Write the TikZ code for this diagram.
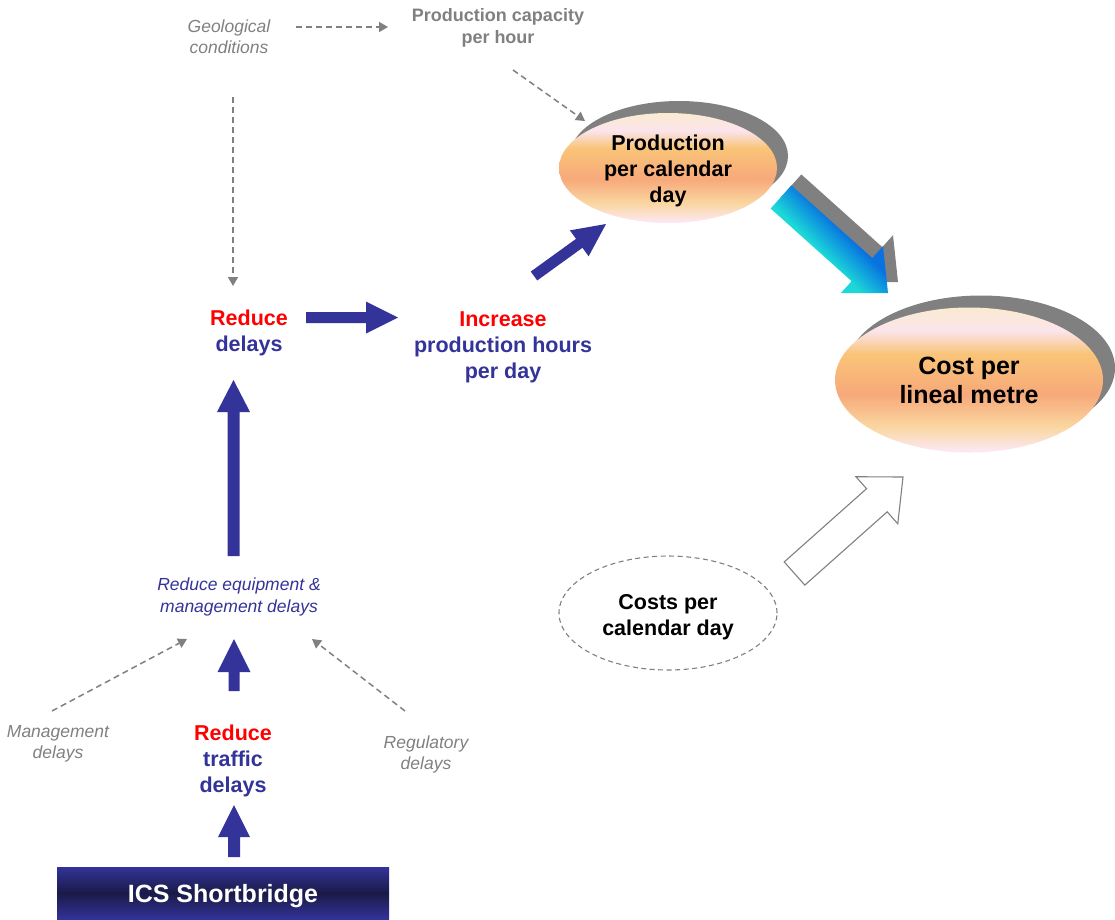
\documentclass[tikz,border=0pt]{standalone}
\usepackage{fontspec}
\setmainfont{Liberation Sans}
\usetikzlibrary{calc,shapes.geometric,arrows.meta,shadows}

\definecolor{navy}{HTML}{333399}
\definecolor{dgray}{HTML}{808080}
\definecolor{shgray}{HTML}{808080}
\definecolor{redc}{HTML}{FF0000}
\definecolor{egA}{HTML}{FCE7EE}
\definecolor{egB}{HTML}{FAD6A0}
\definecolor{egC}{HTML}{F7A97A}
\definecolor{egD}{HTML}{F9C478}
\definecolor{egE}{HTML}{FBE4EC}
\definecolor{egF}{HTML}{FAEAD0}
\definecolor{icsdark}{HTML}{1A1A48}
\definecolor{cyanA}{HTML}{1CD8D8}
\definecolor{blueA}{HTML}{0872E0}

\pgfdeclareverticalshading{eggshade}{100bp}{color(0bp)=(egA); color(26bp)=(egA); color(34bp)=(egB); color(45bp)=(egC); color(59bp)=(egD); color(67bp)=(egE); color(75bp)=(egF); color(100bp)=(egF)}
\pgfdeclareverticalshading{icsshade}{100bp}{color(0bp)=(navy); color(25bp)=(navy); color(50bp)=(icsdark); color(75bp)=(navy); color(100bp)=(navy)}
\pgfdeclareverticalshading{blueshade}{100bp}{color(0bp)=(blueA); color(43bp)=(blueA); color(57bp)=(cyanA); color(100bp)=(cyanA)}

% block arrow: [style]{tail}{tip}{shaft half width}{head half width}{head length}
\newcommand\blockarrow[6][]{%
  \coordinate (bah) at ($(#3)!#6!(#2)$);
  \path[#1] ($(#2)!#4!90:(#3)$) -- ($(bah)!#4!90:(#3)$) -- ($(bah)!#5!90:(#3)$) -- (#3)
     -- ($(bah)!#5!-90:(#3)$) -- ($(bah)!#4!-90:(#3)$) -- ($(#2)!#4!-90:(#3)$) -- cycle;}

\tikzset{
  midlbl/.style={font=\fontsize{21.5}{26}\selectfont\bfseries, align=center, inner sep=0pt, text=navy},
  greyit/.style={font=\fontsize{17.5}{21.5}\selectfont\itshape, align=center, inner sep=0pt, text=dgray},
  navyit/.style={font=\fontsize{17.5}{21.5}\selectfont\itshape, align=center, inner sep=0pt, text=navy},
  greybf/.style={font=\fontsize{18}{22}\selectfont\bfseries, align=center, inner sep=0pt, text=dgray},
  egg/.style={ellipse, inner sep=0pt, shading=eggshade},
  eggtext/.style={align=center, inner sep=0pt, text=black, font=\fontsize{21.5}{26}\selectfont\bfseries},
  dasharr/.style={draw=dgray, line width=1.5pt, dash pattern=on 6pt off 4pt, -{Triangle[width=10pt,length=9pt]}},
  navyblk/.style={fill=navy},
  blueblk/.style={shading=blueshade, shading angle=135},
  shadowblk/.style={fill=shgray, transform canvas={shift={(10pt,11pt)}}},
  whiteblk/.style={fill=white, draw=dgray, line width=1.1pt, line join=miter},
}

\begin{document}
\begin{tikzpicture}[x=1pt, y=-1pt]
\useasboundingbox (0,0) rectangle (1115,919);

% ---- nodes ----
\node[greyit] (geo) at (229,36.5) {Geological\\conditions};
\node[greybf] (cap) at (498,28) {Production capacity\\per hour};
\node[egg, minimum width=218, minimum height=110,
      general shadow={fill=shgray, shadow xshift=11pt, shadow yshift=12pt}]
      (prod) at (668,168) {};
\node[eggtext] (prodlbl) at ([shift={(0,3)}]prod.center) {Production\\per calendar\\day};
\node[egg, minimum width=268, minimum height=145, align=center, text=black,
      font=\fontsize{25}{29}\selectfont\bfseries,
      general shadow={fill=shgray, shadow xshift=12pt, shadow yshift=12pt}]
      (cost) at (969,380) {Cost per\\lineal metre};
\node[midlbl] (rd) at (249,333) {\textcolor{redc}{Reduce}\\delays};
\node[midlbl] (inc) at (503,347) {\textcolor{redc}{Increase}\\production hours\\per day};
\node[navyit] (reqp) at (239,597) {Reduce equipment \&\\management delays};
\node[greyit] (mgmt) at (58,744) {Management\\delays};
\node[greyit] (reg) at (426,754.5) {Regulatory\\delays};
\node[midlbl] (rtd) at (233,761) {\textcolor{redc}{Reduce}\\traffic\\delays};
\node[ellipse, draw=dgray, line width=1.1pt, dash pattern=on 5pt off 3.5pt,
      minimum width=218, minimum height=114, inner sep=0pt]
      (cpd) at (668,613) {};
\node[eggtext] (cpdlbl) at ([shift={(0,4)}]cpd.center) {Costs per\\calendar day};
\node[rectangle, shading=icsshade, minimum width=332, minimum height=52, inner sep=0pt]
      (ics) at (223,893) {};
\node[text=white, inner sep=0pt, font=\fontsize{25}{29}\selectfont\bfseries]
      (icslbl) at ([shift={(0,3)}]ics.center) {ICS Shortbridge};

% ---- dashed connectors ----
\draw[dasharr] ([shift={(67,-9.5)}]geo.center) -- ([shift={(-110,-1)}]cap.center);
\draw[dasharr] ([shift={(15,42)}]cap.center) -- ([shift={(-83,-47)}]prod.center);
\draw[dasharr] ([shift={(4,60.5)}]geo.center) -- ([shift={(-16,-47)}]rd.center);
\draw[dasharr] ([shift={(-6,-33)}]mgmt.center) -- ([shift={(-52,42)}]reqp.center);
\draw[dasharr] ([shift={(-21,-43.5)}]reg.center) -- ([shift={(73,42)}]reqp.center);

% ---- block arrow end points ----
\coordinate (aS) at ([shift={(57,-15.5)}]rd.center);
\coordinate (aT) at ([shift={(-105,-29.5)}]inc.center);
\coordinate (bS) at ([shift={(31,-71)}]inc.center);
\coordinate (bT) at ([shift={(-62,56)}]prod.center);
\coordinate (cS) at ([shift={(-5.5,-41)}]reqp.center);
\coordinate (cT) at ([shift={(-15.5,47)}]rd.center);
\coordinate (dS) at ([shift={(1,-70)}]rtd.center);
\coordinate (dT) at ([shift={(-5,42)}]reqp.center);
\coordinate (eS) at ([shift={(11,-36)}]ics.center);
\coordinate (eT) at ([shift={(1,44)}]rtd.center);
\coordinate (fS) at ([shift={(113,29)}]prod.center);
\coordinate (fT) at ([shift={(-81,-87)}]cost.center);
\coordinate (gS) at ([shift={(126.5,-39.5)}]cpd.center);
\coordinate (gT) at ([shift={(-66,97)}]cost.center);

% ---- block arrows ----
\blockarrow[navyblk]{aS}{aT}{5.5pt}{16pt}{32pt}
\blockarrow[navyblk]{bS}{bT}{5.5pt}{16pt}{33pt}
\blockarrow[navyblk]{cS}{cT}{6pt}{16.5pt}{32pt}
\blockarrow[navyblk]{dS}{dT}{5.5pt}{16.5pt}{33pt}
\blockarrow[navyblk]{eS}{eT}{6pt}{16pt}{32pt}
\blockarrow[shadowblk]{fS}{fT}{15.5pt}{31.5pt}{35pt}
\blockarrow[blueblk]{fS}{fT}{15.5pt}{31.5pt}{35pt}
\blockarrow[whiteblk]{gS}{gT}{15.5pt}{31.5pt}{35pt}
\end{tikzpicture}
\end{document}
